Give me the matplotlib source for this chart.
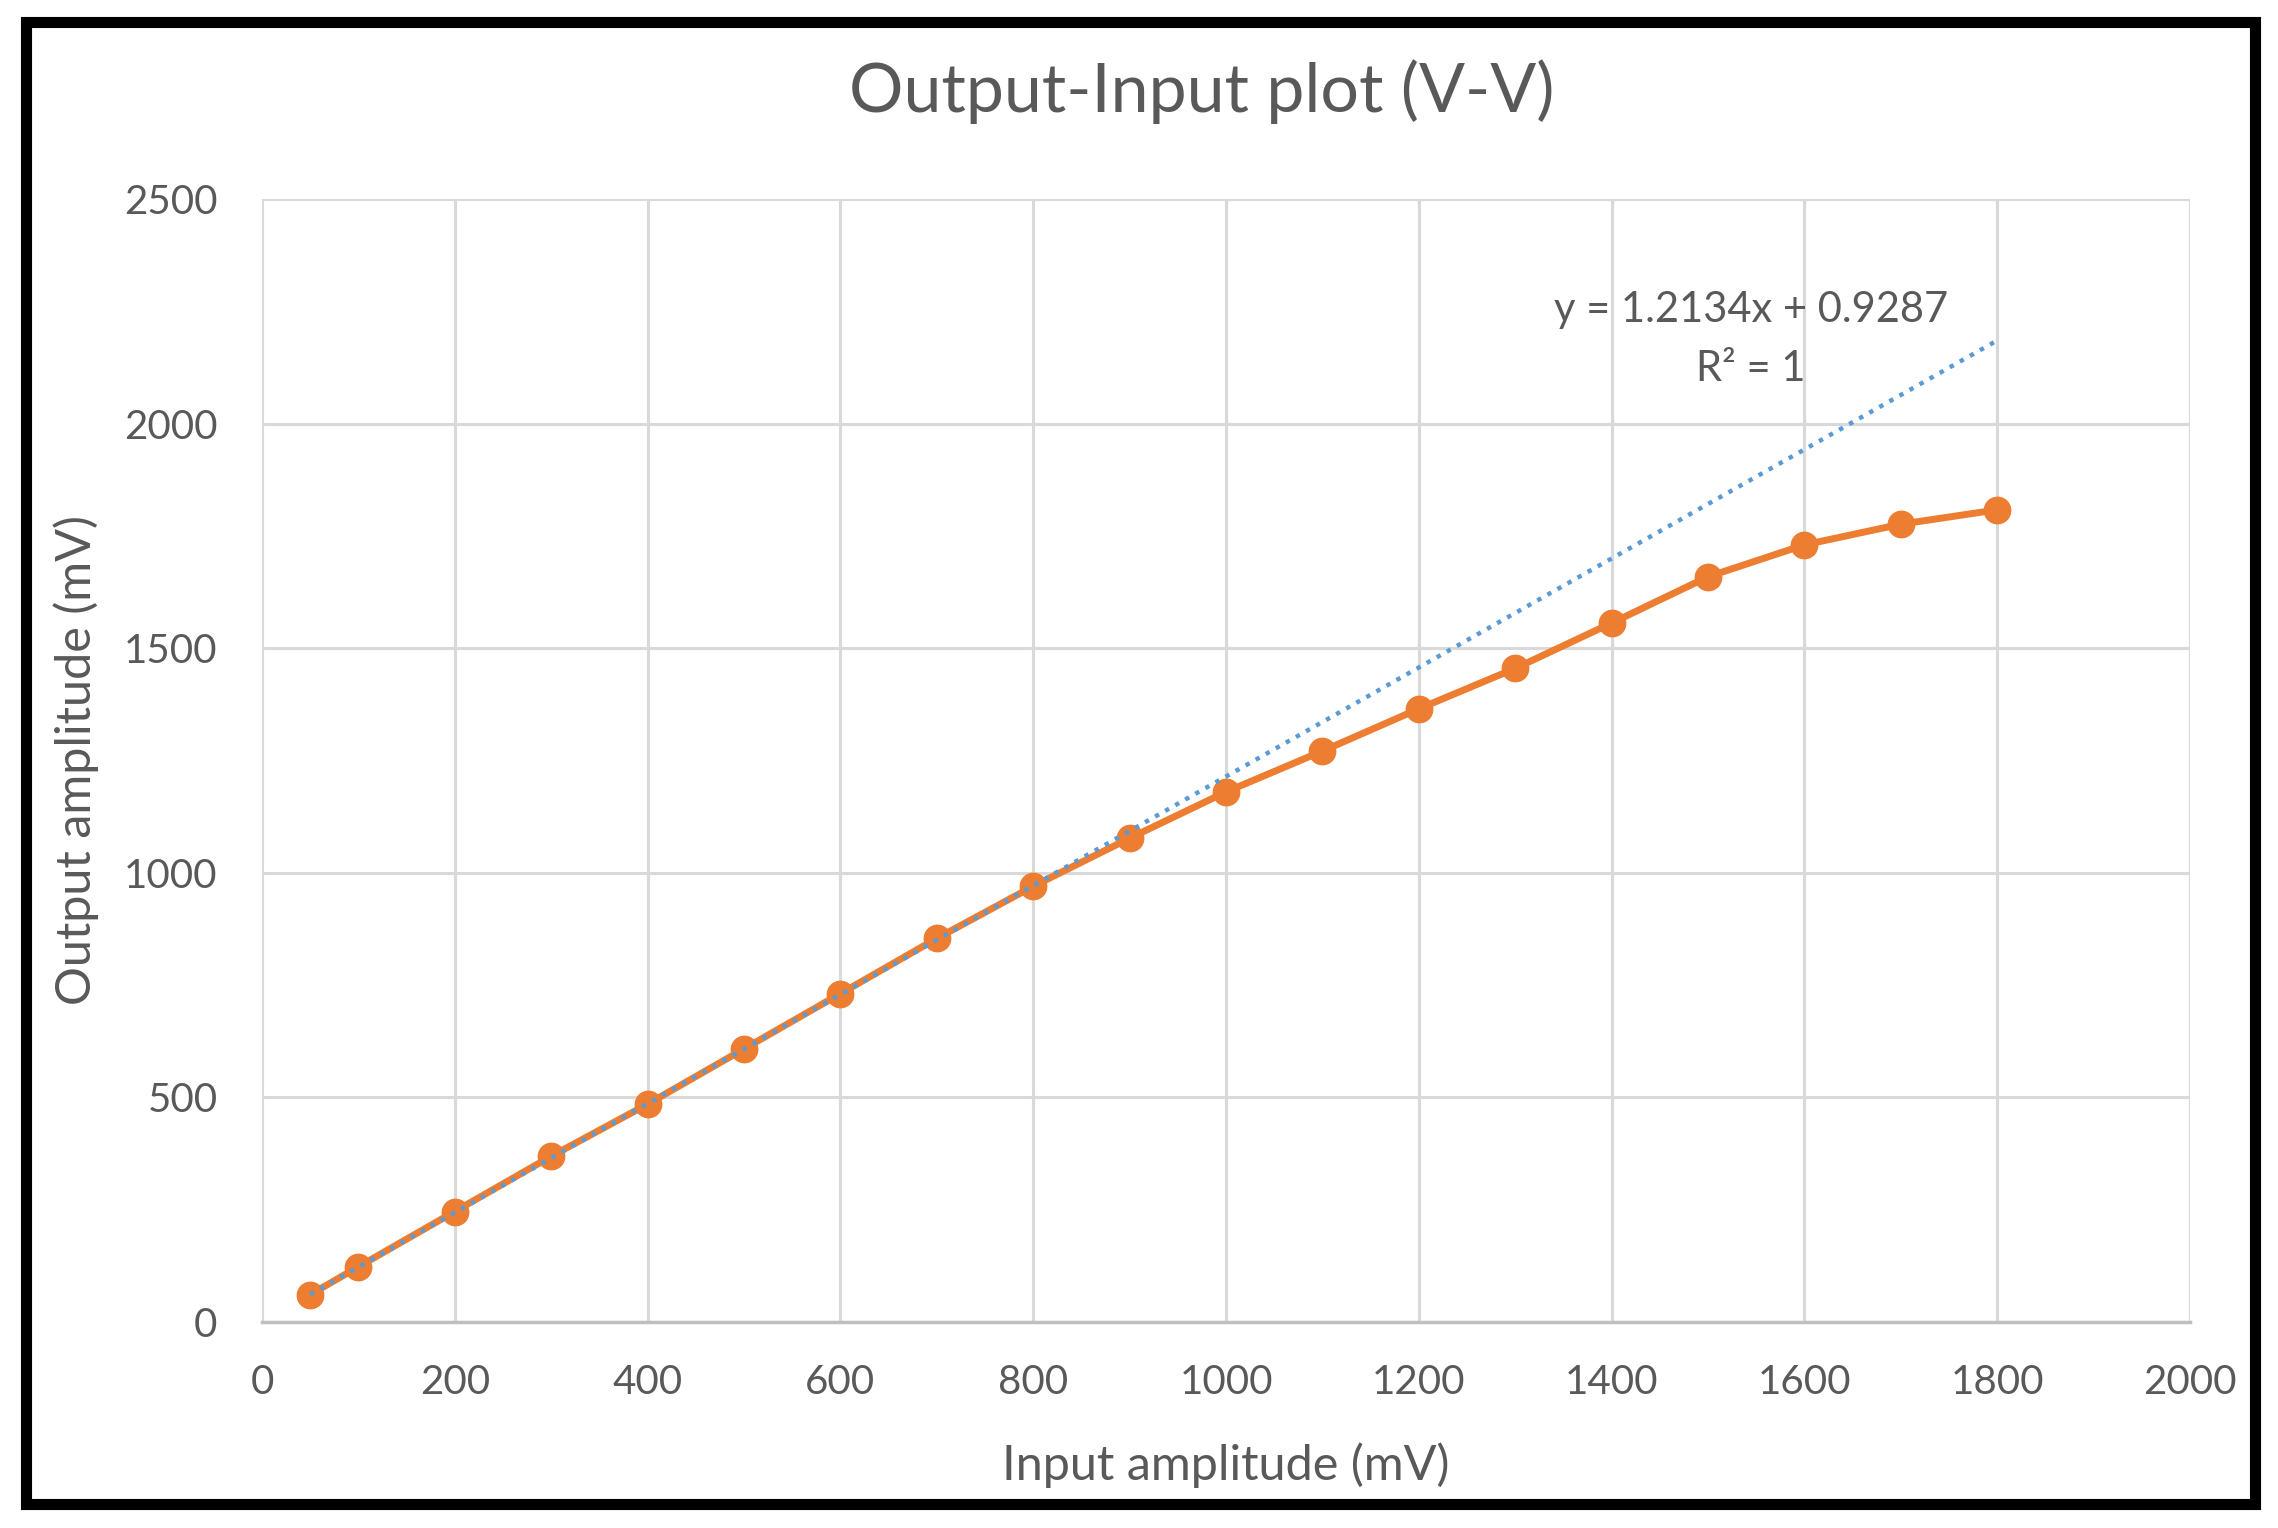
import numpy as np
import matplotlib.pyplot as plt
from matplotlib.patches import Rectangle

# measured data (mV)
x_in = [50, 100, 200, 300, 400, 500, 600, 700, 800, 900,
        1000, 1100, 1200, 1300, 1400, 1500, 1600, 1700, 1800]
y_out = [61, 123, 246, 369, 485, 608, 731, 854, 970, 1077,
         1180, 1271, 1365, 1455, 1556, 1659, 1730, 1776, 1808]

# linear trendline coefficients shown on chart
slope = 1.2134
intercept = 0.9287
trend_x = [50, 1800]

xticks = [0, 200, 400, 600, 800, 1000, 1200, 1400, 1600, 1800, 2000]
yticks = [0, 500, 1000, 1500, 2000, 2500]

txt = '#595959'
plt.rcParams['font.family'] = ['Lato', 'DejaVu Sans']

fig = plt.figure(figsize=(22.78, 15.28), dpi=100)
ax = fig.add_axes([0.115, 0.1348, 0.8464, 0.735])

tx = np.array(trend_x, dtype=float)
ax.plot(tx, slope * tx + intercept, linestyle=(0, (1, 1.6)), color='#5B9BD5',
        linewidth=3.2, zorder=4)
ax.plot(x_in, y_out, color='#ED7D31', linewidth=5, marker='o',
        markersize=19, zorder=3)

ax.set_xlim(0, 2000)
ax.set_ylim(0, 2500)
ax.set_xticks(xticks)
ax.set_yticks(yticks)
ax.grid(True, color='#D9D9D9', linewidth=2.2)
ax.set_axisbelow(True)
for s in ['top', 'right', 'left']:
    ax.spines[s].set_visible(False)
ax.spines['bottom'].set_color('#BFBFBF')
ax.spines['bottom'].set_linewidth(2.5)
ax.tick_params(length=0, labelsize=29, labelcolor=txt)
ax.tick_params(axis='x', pad=30)
ax.tick_params(axis='y', pad=32)

# title
fig.text(1202 / 2278, 1 - 92 / 1528, 'Output-Input plot (V-V)', fontsize=49,
         color=txt, ha='center', va='center')

ax.set_xlabel('Input amplitude (mV)', fontsize=35, color=txt)
ax.set_ylabel('Output amplitude (mV)', fontsize=35, color=txt)
ax.xaxis.set_label_coords(0.5, -0.1273)
ax.yaxis.set_label_coords(-0.0965, 0.5)
ax.xaxis.label.set_va('center')
ax.yaxis.label.set_va('center')

ax.text(1751 / 2278, 1 - 310 / 1528, 'y = 1.2134x + 0.9287', transform=fig.transFigure,
        ha='center', va='center', fontsize=30, color=txt)
ax.text(1751 / 2278, 1 - 369 / 1528, 'R² = 1', transform=fig.transFigure,
        ha='center', va='center', fontsize=30, color=txt)

fig.patches.append(Rectangle((26 / 2278, 1 - 1504 / 1528), (2255 - 26) / 2278,
                             (1504 - 22) / 1528, transform=fig.transFigure,
                             fill=False, edgecolor='black', linewidth=8))

fig.savefig('out.png', dpi=100)
